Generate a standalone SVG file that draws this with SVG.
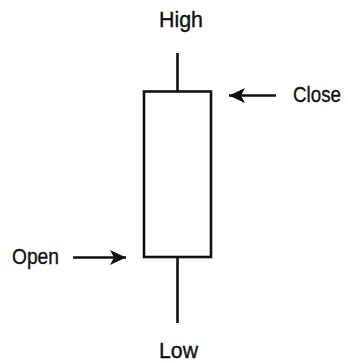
<svg xmlns="http://www.w3.org/2000/svg" width="348" height="363" viewBox="0 0 348 363">
  <style>
    .lbl { font-family: "Liberation Sans", Arial, sans-serif; font-size: 21.5px; fill: #111; stroke: #111; stroke-width: 0.35; }
    .ln { stroke: #111; stroke-width: 2.6; fill: none; }
  </style>
  <defs>
    <marker id="ah" markerUnits="userSpaceOnUse" markerWidth="18" markerHeight="16" refX="16" refY="7.5" orient="auto">
      <path d="M0,0 L16,7.5 L0,15 L4,7.5 z" fill="#111"/>
    </marker>
  </defs>
  <rect width="348" height="363" fill="#fff"/>
  <g id="candle">
    <line class="ln" x1="177.5" y1="53" x2="177.5" y2="91.5"/>
    <line class="ln" x1="177.5" y1="257" x2="177.5" y2="323"/>
    <rect class="ln" x="144" y="91.5" width="67" height="165.5"/>
  </g>
  <g id="high"><text class="lbl" x="159" y="27" textLength="44" lengthAdjust="spacingAndGlyphs">High</text></g>
  <g id="close"><text class="lbl" x="293" y="102" textLength="48" lengthAdjust="spacingAndGlyphs">Close</text></g>
  <g id="open"><text class="lbl" x="12" y="263.5" textLength="47" lengthAdjust="spacingAndGlyphs">Open</text></g>
  <g id="low"><text class="lbl" x="159" y="358" textLength="39" lengthAdjust="spacingAndGlyphs">Low</text></g>
  <g id="connectors">
    <line class="ln" x1="276" y1="95.5" x2="229" y2="95.5" marker-end="url(#ah)"/>
    <line class="ln" x1="73" y1="257.5" x2="126" y2="257.5" marker-end="url(#ah)"/>
  </g>
</svg>
